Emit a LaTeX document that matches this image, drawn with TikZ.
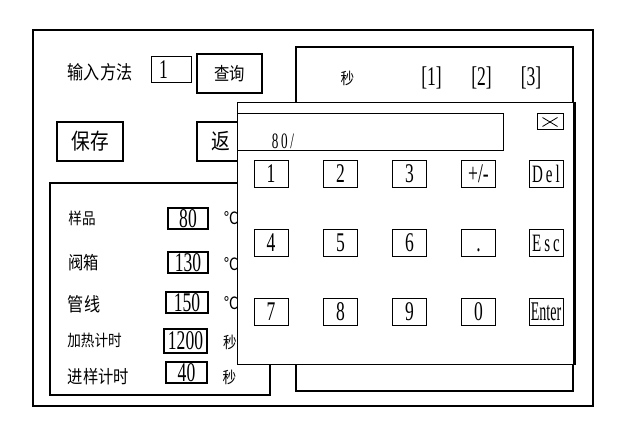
\documentclass[tikz,border=0pt]{standalone}
\usepackage{fontspec}
\newfontfamily\cjk[FakeStretch=0.85]{Noto Sans CJK SC}
\newfontfamily\numf[FakeStretch=0.65]{Liberation Serif}
\newfontfamily\narrowf[FakeStretch=0.52]{Liberation Serif}
\newfontfamily\widef[FakeStretch=0.6,LetterSpace=12]{Liberation Serif}
\begin{document}
\begin{tikzpicture}
		[x=1pt,y=-1pt,every node/.style={inner sep=0pt},
		zh/.style={font=\cjk\fontsize{#1}{#1}\selectfont},zh/.default=17,
		num/.style={font=\numf\fontsize{#1}{#1}\selectfont},num/.default=27,
		panelline/.style={draw=black, line width=2pt},
		thickbox/.style={draw=black, line width=2pt, minimum width=#1, minimum height=39pt},
		valbox/.style={draw=black, line width=1.8pt, minimum height=21pt, num},
		keybtn/.style={draw=black, line width=1pt, minimum width=34pt, minimum height=27pt, num}]
			\useasboundingbox (0,0) rectangle (622,433);
			\draw[panelline] (33,30) rectangle (593,406);

			%%right panel
			\draw[panelline] (296,47) rectangle (573,391);
			\node[zh=16] (sec) at (347.5,78) {秒};
			\node[num] (col1) at (431.5,78) {[1]};
			\node[num] (col2) at (481.5,78) {[2]};
			\node[num] (col3) at (531,78) {[3]};

			%%top controls
			\node[zh=19] (method) at (100,72) {输入方法};
			\node[draw=black, line width=1pt, minimum width=40pt, minimum height=26pt,
				text width=24pt, inner xsep=8pt, align=left, num] (methodval) at (171,70) {1};
			\node[thickbox=65pt, zh=18] (query) at (229.5,73.5) {查询};
			\node[thickbox=66pt, zh=22] (save) at (90,141.5) {保存};
			\node[thickbox=65pt] (back) at (229.5,141.5) {};
			\node[zh=22] (backtxt) at (221,141.5) {返};

			%%left panel
			\draw[panelline] (50,183) rectangle (270,395);
			\node[zh=16] (sample) at (82,218.5) {样品};
			\node[zh=18] (valve) at (83.5,263) {阀箱};
			\node[zh=19] (line) at (84,304) {管线};
			\node[zh=16] (heat) at (94.5,340.5) {加热计时};
			\node[zh=18] (inject) at (98.5,376.5) {进样计时};

			\node[valbox, minimum width=40pt] (vsample) at (188,218.5) {80};
			\node[valbox, minimum width=40pt] (vvalve) at (188,262.5) {130};
			\node[valbox, minimum width=42pt] (vline) at (187,302.5) {150};
			\node[valbox, minimum width=43pt, minimum height=24pt] (vheat) at (185.5,341) {1200};
			\node[valbox, minimum width=41pt] (vinject) at (186.5,372.5) {40};

			\node[zh=17] (usample) at (231,218) {℃};
			\node[zh=17] (uvalve) at (231,264) {℃};
			\node[zh=17] (uline) at (231,303) {℃};
			\node[zh=16] (uheat) at (230,342) {秒};
			\node[zh=16] (uinject) at (229.5,377) {秒};

			%%keypad
			\node[draw=black, fill=white, line width=1pt, minimum width=337pt,
				minimum height=261pt] (pad) at (405.5,233.5) {};
			\draw[line width=3pt] (pad.north east) -- (pad.south east);
			\node[draw=black, line width=1pt, minimum width=266pt,
				minimum height=37pt] (entry) at (370,132.5) {};
			\node[font=\widef\fontsize{22}{22}\selectfont] (entrytxt) at (283,141) {80/};
			\node[draw=black, line width=1pt, minimum width=26pt,
				minimum height=16pt] (close) at (550,122) {};
			\draw[line width=.8pt] ([shift={(6,4)}]close.north west) -- ([shift={(-6,-4)}]close.south east);
			\draw[line width=.8pt] ([shift={(-6,4)}]close.north east) -- ([shift={(6,-4)}]close.south west);

			\node[keybtn] (k1) at (271,174) {1};
			\node[keybtn] (k2) at (340.5,174) {2};
			\node[keybtn] (k3) at (409.5,174) {3};
			\node[keybtn] (kpm) at (478.5,174) {+/-};
			\node[keybtn, font=\widef\fontsize{25}{25}\selectfont] (kdel) at (546,174) {Del};

			\node[keybtn] (k4) at (271,243) {4};
			\node[keybtn] (k5) at (340.5,243) {5};
			\node[keybtn] (k6) at (409.5,243) {6};
			\node[keybtn] (kdot) at (478.5,243) {\vphantom{0}.};
			\node[keybtn, font=\widef\fontsize{25}{25}\selectfont] (kesc) at (546,243) {Esc};

			\node[keybtn] (k7) at (271,312) {7};
			\node[keybtn] (k8) at (340.5,312) {8};
			\node[keybtn] (k9) at (409.5,312) {9};
			\node[keybtn] (k0) at (478.5,312) {0};
			\node[keybtn, font=\narrowf\fontsize{27}{27}\selectfont] (kenter) at (546,312) {Enter};
		\end{tikzpicture}
\end{document}
